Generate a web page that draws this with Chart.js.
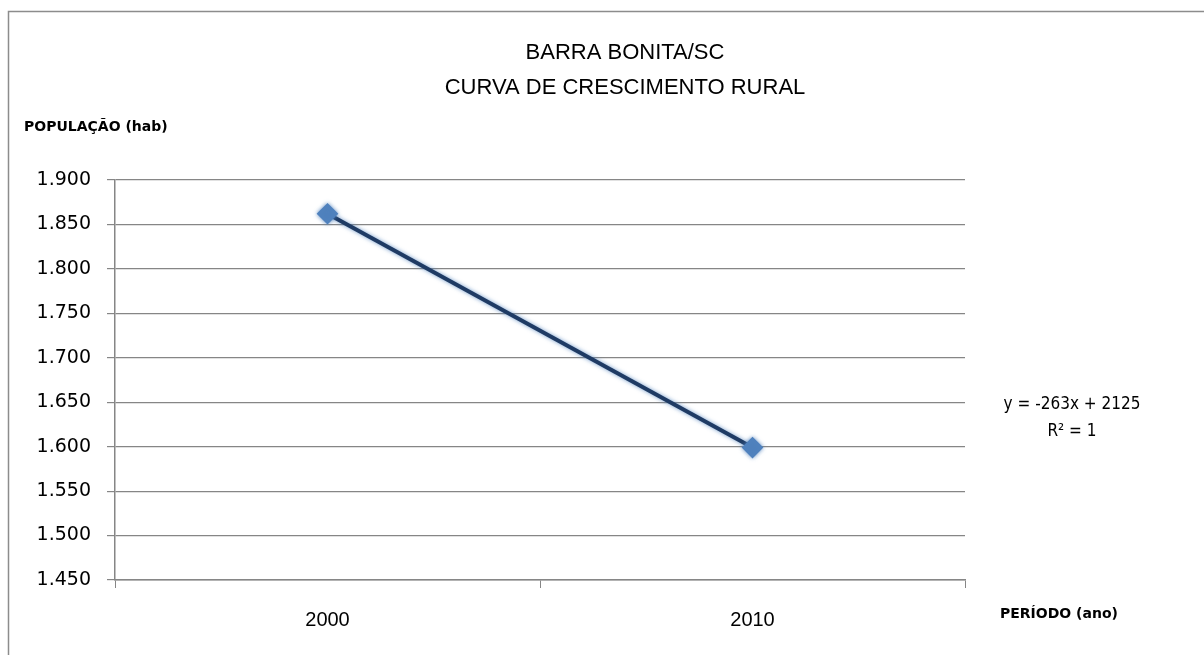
<!DOCTYPE html>
<html lang="pt">
<head>
  <meta charset="UTF-8">
  <title>Barra Bonita/SC - Curva de crescimento rural</title>
  <script src="https://cdn.jsdelivr.net/npm/chart.js"></script>
  <style>
    body { margin: 0; background: #fff; }
    #wrap { width: 1204px; height: 655px; position: relative; }
  </style>
</head>
<body>
  <div id="wrap"><canvas id="chart"></canvas></div>

  <script>
    const anos = ["2000", "2010"];
    const populacao = [1862, 1599];
    const yTicks = [1450, 1500, 1550, 1600, 1650, 1700, 1750, 1800, 1850, 1900];
    const titulo = ["BARRA BONITA/SC", "CURVA DE CRESCIMENTO RURAL"];
    const equacao = ["y = -263x + 2125", "R² = 1"];

    // moldura, títulos dos eixos e equação da linha de tendência
    const extras = {
      id: 'extras',
      beforeDraw(chart) {
        const c = chart.ctx;
        c.save();
        c.fillStyle = '#fff';
        c.fillRect(0, 0, chart.width, chart.height);
        c.strokeStyle = '#8c8c8c';
        c.lineWidth = 1.5;
        c.beginPath();
        c.moveTo(8.5, chart.height);
        c.lineTo(8.5, 11.5);
        c.lineTo(chart.width, 11.5);
        c.stroke();
        c.restore();
      },
      beforeDatasetsDraw(chart) {
        // leve halo azul da linha, como no Excel
        chart.ctx.save();
        chart.ctx.shadowColor = 'rgba(79,129,189,0.8)';
        chart.ctx.shadowBlur = 4;
      },
      afterDatasetsDraw(chart) {
        chart.ctx.restore();
      },
      afterDraw(chart) {
        const c = chart.ctx;
        c.save();
        c.fillStyle = '#000';
        c.textAlign = 'center';
        c.textBaseline = 'middle';
        c.font = '22px "Liberation Sans", Arial, sans-serif';
        c.fillText(titulo[0], 625, 53);
        c.fillText(titulo[1], 625, 88);

        c.textAlign = 'left';
        c.font = 'bold 14px "DejaVu Sans", Verdana, sans-serif';
        c.fillText('POPULAÇÃO (hab)', 24, 127);
        c.font = 'bold 14px "DejaVu Sans", Verdana, sans-serif';
        c.fillText('PERÍODO (ano)', 1000, 614);

        c.textAlign = 'center';
        c.font = '17px "DejaVu Sans Condensed", "DejaVu Sans", sans-serif';
        c.fillText(equacao[0], 1072, 405);
        c.fillText(equacao[1], 1072, 432);
        c.restore();
      }
    };

    new Chart(document.getElementById('chart'), {
      type: 'line',
      data: {
        labels: anos,
        datasets: [{
          label: 'População rural',
          data: populacao,
          borderColor: '#1f3b64',
          borderWidth: 4,
          pointStyle: 'rectRot',
          pointRadius: 8,
          pointBackgroundColor: '#4f81bd',
          pointBorderColor: '#4f81bd',
          tension: 0
        }]
      },
      options: {
        responsive: true,
        maintainAspectRatio: false,
        animation: false,
        layout: { padding: { top: 180, right: 239, left: 0, bottom: 0 } },
        plugins: {
          legend: { display: false },
          title: { display: false },
          tooltip: { enabled: false }
        },
        scales: {
          x: {
            offset: true,
            grid: { offset: true, drawOnChartArea: false, drawTicks: true, tickLength: 8, color: '#868686' },
            border: { color: '#868686', width: 1.5 },
            ticks: {
              color: '#000',
              padding: 20,
              font: { family: '"Liberation Sans", Arial, sans-serif', size: 20 }
            },
            afterFit(s) { s.height = 75; }
          },
          y: {
            min: 1450,
            max: 1900,
            afterBuildTicks(s) { s.ticks = yTicks.map(v => ({ value: v })); },
            grid: { color: '#868686', lineWidth: 1.2, tickLength: 8 },
            border: { color: '#868686', width: 1.5 },
            ticks: {
              color: '#000',
              padding: 16,
              font: { family: '"DejaVu Sans", Verdana, sans-serif', size: 19 },
              callback: v => (v / 1000).toFixed(3)
            },
            afterFit(s) { s.width = 115; }
          }
        }
      },
      plugins: [extras]
    });
  </script>
</body>
</html>
